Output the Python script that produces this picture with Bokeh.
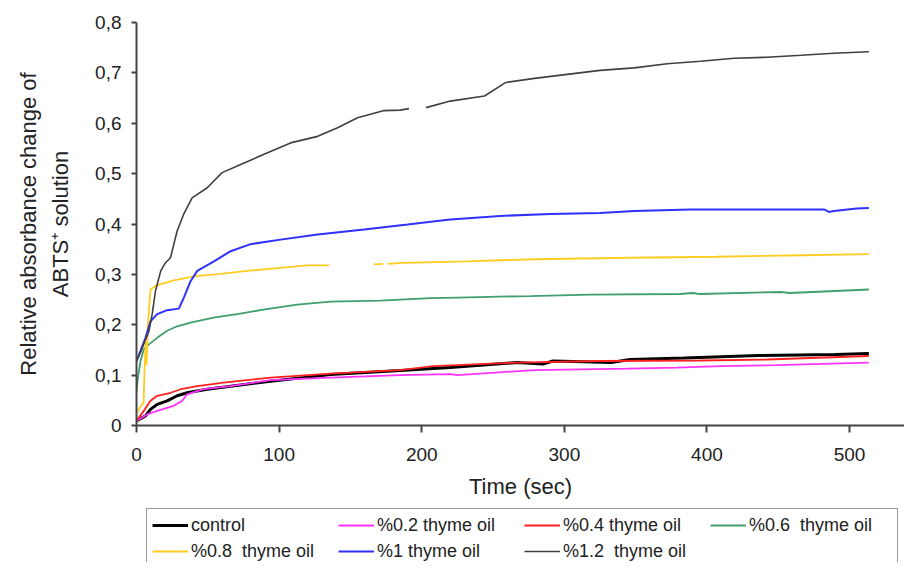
import numpy as np
from bokeh.plotting import figure
from bokeh.layouts import column
from bokeh.models import (Range1d, FixedTicker, CustomJSTickFormatter, Legend, LegendItem)
from bokeh.embed import file_html
from bokeh.resources import INLINE

nan = np.nan

# ---- data (time in sec, relative absorbance change) ----
t_control = [0, 6.3, 9.8, 14.5, 21.5, 28.5, 35.5, 49.6, 66, 94, 136, 185, 220, 267, 285, 292, 333, 346, 384, 436, 490, 513.5]
v_control = [0.009, 0.019, 0.032, 0.042, 0.049, 0.059, 0.065, 0.072, 0.078, 0.088, 0.101, 0.109, 0.115, 0.125, 0.122, 0.128, 0.125, 0.131, 0.134, 0.139, 0.141, 0.143]

t_02 = [0, 7.5, 14.5, 26, 32, 35.5, 47, 66, 94, 136, 185, 220, 225, 279, 344, 379, 410, 449, 513.5]
v_02 = [0.009, 0.022, 0.029, 0.039, 0.049, 0.062, 0.072, 0.078, 0.090, 0.095, 0.100, 0.102, 0.100, 0.110, 0.113, 0.115, 0.118, 0.120, 0.125]

t_04 = [0, 5.1, 9.8, 14.5, 24, 31, 42.6, 61, 94, 136, 185, 208, 267, 325, 395, 442, 513.5]
v_04 = [0.009, 0.029, 0.049, 0.059, 0.065, 0.072, 0.078, 0.085, 0.095, 0.103, 0.110, 0.118, 0.125, 0.128, 0.129, 0.131, 0.138]

t_06 = [0, 1, 2.8, 5.1, 8.7, 14.5, 21.5, 28.5, 38, 54, 70.6, 89, 112.6, 136, 171, 206, 225, 276, 318, 381, 390, 395, 451.6, 458, 513.5]
v_06 = [0.068, 0.095, 0.128, 0.151, 0.161, 0.174, 0.188, 0.197, 0.204, 0.214, 0.221, 0.230, 0.240, 0.246, 0.248, 0.253, 0.254, 0.257, 0.260, 0.261, 0.263, 0.261, 0.265, 0.263, 0.270]

t_08 = [0, 3.5, 5, 5.5, 6.5, 7, 8, 9.8, 13.3, 26, 42.6, 59, 77.6, 101, 119.7, 135, nan, 166.5, 173, nan, 176, 187, 232, 255, 279, 346, 407, 468, 513.5]
v_08 = [0.025, 0.04, 0.045, 0.10, 0.165, 0.12, 0.20, 0.270, 0.277, 0.288, 0.297, 0.301, 0.307, 0.313, 0.318, 0.318, nan, 0.320, 0.321, nan, 0.321, 0.323, 0.326, 0.328, 0.330, 0.333, 0.335, 0.338, 0.340]

t_10 = [0, 2.8, 6.3, 9.8, 14.5, 21.5, 29.7, 33.2, 38, 42.6, 54.3, 66, 80, 101, 127, 159.6, 190, 220, 255, 290, 325, 349, 388.5, 419, 482, 485.6, 489, 505, 513.5]
v_10 = [0.128, 0.148, 0.174, 0.207, 0.221, 0.229, 0.232, 0.254, 0.287, 0.307, 0.326, 0.346, 0.360, 0.369, 0.379, 0.389, 0.399, 0.409, 0.416, 0.420, 0.422, 0.426, 0.429, 0.429, 0.429, 0.424, 0.426, 0.431, 0.432]

t_12 = [0, 2.8, 5, 8.7, 11, 13.3, 17, 20, 23.8, 28.5, 33, 39, 49.6, 60, 70.6, 89, 108, 127, 141, 155, 173, 185, 191, nan, 203, 220, 244, 259, 279, 302, 325, 349, 372, 395.5, 419, 442, 466, 489, 513.5]
v_12 = [0.128, 0.145, 0.161, 0.187, 0.221, 0.267, 0.307, 0.322, 0.333, 0.386, 0.419, 0.452, 0.472, 0.502, 0.515, 0.538, 0.561, 0.574, 0.591, 0.611, 0.625, 0.626, 0.629, nan, 0.631, 0.644, 0.654, 0.681, 0.689, 0.697, 0.705, 0.710, 0.718, 0.723, 0.729, 0.731, 0.735, 0.739, 0.742]

series_labels = ["control", "%0.2 thyme oil", "%0.4 thyme oil", "%0.6  thyme oil",
                 "%0.8  thyme oil", "%1 thyme oil", "%1.2  thyme oil"]
x_ticks = [0, 100, 200, 300, 400, 500]
y_ticks = [0, 0.1, 0.2, 0.3, 0.4, 0.5, 0.6, 0.7, 0.8]

series = [(t_control, v_control), (t_02, v_02), (t_04, v_04), (t_06, v_06),
          (t_08, v_08), (t_10, v_10), (t_12, v_12)]
colors = ["#000000", "#ff33ff", "#ff2020", "#3f9f6f", "#ffcc22", "#3030ff", "#404040"]
widths = [3, 1.8, 1.8, 1.8, 1.8, 2, 1.6]

FONT = "Liberation Sans"

# ---------------- main chart ----------------
p = figure(width=904, height=508, output_backend="svg", toolbar_location=None,
           x_range=Range1d(0, 538.5), y_range=Range1d(0, 0.8),
           min_border_left=136, min_border_right=0, min_border_top=22, min_border_bottom=83)
p.outline_line_color = None
p.grid.visible = False
p.background_fill_color = "white"
p.border_fill_color = "white"

for (t, v), c, w in zip(series, colors, widths):
    p.line(t, v, line_color=c, line_width=w)

xa = p.xaxis[0]
ya = p.yaxis[0]
xa.ticker = FixedTicker(ticks=x_ticks)
ya.ticker = FixedTicker(ticks=y_ticks)
ya.formatter = CustomJSTickFormatter(code="return tick == 0 ? '0' : tick.toFixed(1).replace('.', ',');")
for ax in (xa, ya):
    ax.axis_line_color = "#444444"
    ax.axis_line_width = 2
    ax.major_tick_line_color = "#444444"
    ax.major_tick_line_width = 2
    ax.minor_tick_line_color = None
    ax.major_tick_in = 0
    ax.major_label_text_font = FONT
    ax.major_label_text_font_size = "19px"
    ax.major_label_text_color = "#222222"
    ax.axis_label_text_font = FONT
    ax.axis_label_text_font_style = "normal"
    ax.axis_label_text_color = "#222222"
xa.major_tick_out = 7
ya.major_tick_out = 5
xa.major_label_standoff = 15
ya.major_label_standoff = 10
xa.axis_label = "Time (sec)"
xa.axis_label_text_font_size = "22px"
xa.axis_label_standoff = 10
ya.axis_label = "Relative absorbance change of\nABTS\u207a solution"
ya.axis_label_text_font_size = "22px"
ya.axis_label_text_line_height = 1.3
ya.axis_label_standoff = 19

# ---------------- legend strip ----------------
pl = figure(width=904, height=54, output_backend="svg", toolbar_location=None,
            x_range=Range1d(0, 1), y_range=Range1d(0, 1),
            min_border_left=0, min_border_right=0, min_border_top=0, min_border_bottom=0)
pl.outline_line_color = None
pl.axis.visible = False
pl.grid.visible = False
pl.background_fill_color = "white"
pl.border_fill_color = "white"

items = []
for lab, c, w in zip(series_labels, colors, widths):
    r = pl.line([nan], [nan], line_color=c, line_width=w)
    items.append(LegendItem(label=lab, renderers=[r]))

legend = Legend(items=items, location=(10, -6), orientation="horizontal", ncols=4,
                glyph_width=36, glyph_height=22, label_height=22, label_width=143,
                label_standoff=3, spacing=4, padding=5, margin=0,
                label_text_font=FONT, label_text_font_size="18px", label_text_color="#222222",
                border_line_color="#333333", border_line_width=1.5,
                background_fill_color="white", background_fill_alpha=1.0)
pl.add_layout(legend)

layout = column(p, pl, spacing=0)
open("out.html", "w").write(file_html(layout, INLINE))
